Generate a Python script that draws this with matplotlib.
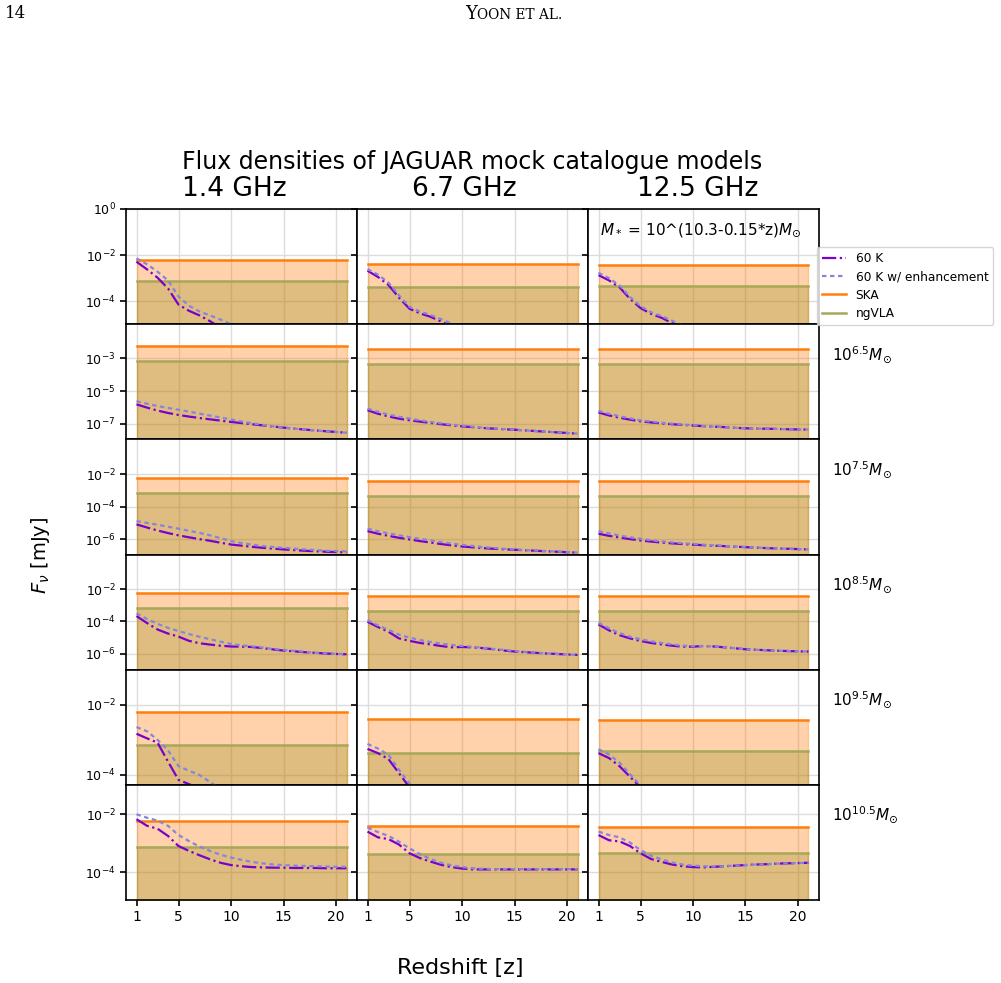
import numpy as np
import matplotlib
matplotlib.use("Agg")
import matplotlib.pyplot as plt
from matplotlib.lines import Line2D
from matplotlib.ticker import FixedLocator, NullLocator, LogFormatterSciNotation

# ---------------- data ----------------
redshift = list(range(1, 22))
freqs = ["1.4 GHz", "6.7 GHz", "12.5 GHz"]
row_labels = [r"$M_*$ = 10^(10.3-0.15*z)$M_{\odot}$", r"$10^{6.5}M_{\odot}$",
              r"$10^{7.5}M_{\odot}$", r"$10^{8.5}M_{\odot}$",
              r"$10^{9.5}M_{\odot}$", r"$10^{10.5}M_{\odot}$"]

# sensitivity limits (mJy) per frequency
ska_limit = [6.0e-3, 3.9e-3, 3.6e-3]
ngvla_limit = [7.2e-4, 4.3e-4, 4.7e-4]

# log10 flux density [mJy], one list per frequency, one variable per mass model
k60_evolving = [
    [-2.29, -2.62, -2.98, -3.45, -4.15, -4.42, -4.62, -4.87, -5.15, -5.4, -5.65, -5.9, -6.15, -6.4, -6.65, -6.9, -7.15, -7.4, -7.65, -7.9, -8.15],
    [-2.68, -2.95, -3.3, -3.85, -4.33, -4.53, -4.68, -4.88, -5.1, -5.35, -5.6, -5.85, -6.1, -6.35, -6.6, -6.85, -7.1, -7.35, -7.6, -7.85, -8.1],
    [-2.87, -3.1, -3.4, -3.9, -4.3, -4.55, -4.72, -4.95, -5.2, -5.45, -5.7, -5.95, -6.2, -6.45, -6.7, -6.95, -7.2, -7.45, -7.7, -7.95, -8.2],
]
enh_evolving = [
    [-2.14, -2.4, -2.72, -3.1, -3.8, -4.2, -4.45, -4.62, -4.8, -5.0, -5.2, -5.4, -5.6, -5.8, -6.0, -6.2, -6.4, -6.6, -6.8, -7.0, -7.2],
    [-2.61, -2.85, -3.2, -3.75, -4.25, -4.45, -4.6, -4.78, -4.98, -5.2, -5.4, -5.6, -5.8, -6.0, -6.2, -6.4, -6.6, -6.8, -7.0, -7.2, -7.4],
    [-2.77, -3.0, -3.32, -3.82, -4.22, -4.48, -4.65, -4.85, -5.05, -5.3, -5.5, -5.7, -5.9, -6.1, -6.3, -6.5, -6.7, -6.9, -7.1, -7.3, -7.5],
]
k60_m65 = [
    [-5.82, -6.02, -6.2, -6.35, -6.47, -6.57, -6.66, -6.74, -6.82, -6.9, -6.97, -7.04, -7.11, -7.18, -7.25, -7.31, -7.37, -7.42, -7.47, -7.52, -7.56],
    [-6.18, -6.4, -6.56, -6.7, -6.8, -6.88, -6.96, -7.04, -7.11, -7.17, -7.22, -7.27, -7.31, -7.35, -7.38, -7.42, -7.46, -7.5, -7.54, -7.58, -7.62],
    [-6.32, -6.5, -6.64, -6.76, -6.86, -6.93, -6.99, -7.04, -7.08, -7.12, -7.16, -7.19, -7.22, -7.26, -7.29, -7.31, -7.32, -7.33, -7.35, -7.36, -7.37],
]
enh_m65 = [
    [-5.63, -5.78, -5.92, -6.04, -6.15, -6.27, -6.39, -6.51, -6.63, -6.75, -6.87, -6.98, -7.08, -7.17, -7.25, -7.31, -7.37, -7.42, -7.47, -7.52, -7.56],
    [-6.08, -6.28, -6.45, -6.58, -6.69, -6.8, -6.9, -6.99, -7.07, -7.13, -7.2, -7.25, -7.3, -7.34, -7.38, -7.42, -7.46, -7.5, -7.54, -7.58, -7.62],
    [-6.22, -6.4, -6.55, -6.68, -6.8, -6.88, -6.95, -7.01, -7.06, -7.1, -7.15, -7.19, -7.22, -7.26, -7.29, -7.31, -7.32, -7.33, -7.35, -7.36, -7.37],
]
k60_m75 = [
    [-5.08, -5.27, -5.45, -5.61, -5.75, -5.87, -5.98, -6.08, -6.2, -6.31, -6.38, -6.45, -6.51, -6.56, -6.61, -6.65, -6.69, -6.72, -6.75, -6.77, -6.79],
    [-5.49, -5.65, -5.78, -5.9, -6.0, -6.1, -6.19, -6.28, -6.36, -6.43, -6.48, -6.53, -6.57, -6.6, -6.63, -6.66, -6.69, -6.72, -6.75, -6.78, -6.81],
    [-5.65, -5.78, -5.88, -5.98, -6.06, -6.13, -6.19, -6.24, -6.28, -6.32, -6.35, -6.38, -6.41, -6.44, -6.47, -6.5, -6.53, -6.55, -6.57, -6.59, -6.61],
]
enh_m75 = [
    [-4.88, -4.99, -5.1, -5.22, -5.34, -5.47, -5.6, -5.75, -5.92, -6.1, -6.22, -6.32, -6.4, -6.46, -6.51, -6.56, -6.61, -6.65, -6.69, -6.71, -6.73],
    [-5.34, -5.5, -5.63, -5.75, -5.86, -5.96, -6.06, -6.16, -6.25, -6.33, -6.4, -6.47, -6.52, -6.57, -6.61, -6.65, -6.68, -6.71, -6.74, -6.77, -6.8],
    [-5.49, -5.63, -5.76, -5.87, -5.96, -6.05, -6.12, -6.18, -6.23, -6.28, -6.32, -6.36, -6.4, -6.43, -6.46, -6.49, -6.52, -6.55, -6.57, -6.59, -6.61],
]
k60_m85 = [
    [-3.67, -4.1, -4.5, -4.75, -4.94, -5.2, -5.35, -5.43, -5.5, -5.55, -5.56, -5.58, -5.65, -5.73, -5.8, -5.85, -5.9, -5.94, -5.98, -6.01, -6.03],
    [-4.02, -4.35, -4.64, -5.05, -5.2, -5.33, -5.42, -5.52, -5.6, -5.58, -5.6, -5.65, -5.72, -5.8, -5.86, -5.9, -5.94, -5.98, -6.01, -6.04, -6.07],
    [-4.19, -4.55, -4.85, -5.05, -5.21, -5.33, -5.42, -5.5, -5.56, -5.56, -5.52, -5.55, -5.6, -5.66, -5.72, -5.75, -5.78, -5.81, -5.83, -5.85, -5.86],
]
enh_m85 = [
    [-3.51, -3.85, -4.15, -4.4, -4.6, -4.78, -4.95, -5.1, -5.25, -5.39, -5.48, -5.54, -5.62, -5.7, -5.76, -5.82, -5.88, -5.93, -5.97, -6.0, -6.02],
    [-3.92, -4.25, -4.52, -4.82, -5.0, -5.15, -5.27, -5.37, -5.45, -5.52, -5.57, -5.63, -5.7, -5.77, -5.83, -5.88, -5.93, -5.97, -6.01, -6.04, -6.07],
    [-4.09, -4.43, -4.72, -4.95, -5.1, -5.23, -5.33, -5.42, -5.5, -5.53, -5.52, -5.55, -5.6, -5.66, -5.72, -5.75, -5.78, -5.81, -5.83, -5.85, -5.86],
]
k60_m95 = [
    [-2.83, -2.96, -3.08, -3.62, -4.14, -4.26, -4.38, -4.5, -4.62, -4.74, -4.86, -4.98, -5.1, -5.22, -5.34, -5.46, -5.58, -5.7, -5.82, -5.94, -6.06],
    [-3.26, -3.38, -3.55, -3.95, -4.35, -4.5, -4.62, -4.74, -4.86, -4.98, -5.1, -5.22, -5.34, -5.46, -5.58, -5.7, -5.82, -5.94, -6.06, -6.18, -6.3],
    [-3.38, -3.52, -3.75, -4.05, -4.35, -4.5, -4.62, -4.74, -4.86, -4.98, -5.1, -5.22, -5.34, -5.46, -5.58, -5.7, -5.82, -5.94, -6.06, -6.18, -6.3],
]
enh_m95 = [
    [-2.64, -2.76, -3.0, -3.3, -3.75, -3.88, -4.0, -4.2, -4.4, -4.55, -4.7, -4.85, -5.0, -5.15, -5.3, -5.45, -5.6, -5.75, -5.9, -6.05, -6.2],
    [-3.12, -3.25, -3.43, -3.85, -4.25, -4.42, -4.55, -4.68, -4.8, -4.92, -5.04, -5.16, -5.28, -5.4, -5.52, -5.64, -5.76, -5.88, -6.0, -6.12, -6.24],
    [-3.27, -3.42, -3.65, -3.98, -4.3, -4.45, -4.58, -4.7, -4.82, -4.94, -5.06, -5.18, -5.3, -5.42, -5.54, -5.66, -5.78, -5.9, -6.02, -6.14, -6.26],
]
k60_m105 = [
    [-2.17, -2.4, -2.5, -2.75, -3.1, -3.27, -3.42, -3.56, -3.68, -3.76, -3.8, -3.83, -3.84, -3.85, -3.85, -3.86, -3.86, -3.86, -3.87, -3.87, -3.87],
    [-2.6, -2.8, -2.86, -3.05, -3.35, -3.52, -3.64, -3.75, -3.83, -3.88, -3.91, -3.91, -3.91, -3.91, -3.91, -3.91, -3.91, -3.91, -3.91, -3.91, -3.91],
    [-2.72, -2.9, -2.94, -3.1, -3.35, -3.55, -3.65, -3.74, -3.8, -3.83, -3.84, -3.82, -3.8, -3.78, -3.76, -3.74, -3.73, -3.71, -3.7, -3.69, -3.68],
]
enh_m105 = [
    [-2.0, -2.12, -2.22, -2.4, -2.72, -2.93, -3.12, -3.27, -3.4, -3.5, -3.58, -3.65, -3.7, -3.74, -3.76, -3.78, -3.79, -3.8, -3.81, -3.82, -3.82],
    [-2.46, -2.62, -2.75, -2.95, -3.18, -3.38, -3.55, -3.68, -3.77, -3.83, -3.87, -3.89, -3.9, -3.9, -3.9, -3.9, -3.9, -3.9, -3.9, -3.9, -3.9],
    [-2.6, -2.72, -2.8, -2.98, -3.24, -3.44, -3.56, -3.67, -3.74, -3.78, -3.8, -3.81, -3.8, -3.78, -3.76, -3.74, -3.73, -3.71, -3.7, -3.69, -3.68],
]

k60_rows = [k60_evolving, k60_m65, k60_m75, k60_m85, k60_m95, k60_m105]
enh_rows = [enh_evolving, enh_m65, enh_m75, enh_m85, enh_m95, enh_m105]

# axis ranges (log10) and tick exponents per row
row_ylim = [(-5.0, 0.0), (-7.97, -0.89), (-6.92, 0.12), (-6.98, 0.13), (-4.28, -1.01), (-4.97, -0.98)]
row_ticks = [[0, -2, -4], [-3, -5, -7], [-2, -4, -6], [-2, -4, -6], [-2, -4], [-2, -4]]

# ---------------- style ----------------
c60 = "#7a00cc"
cenh = "#8585dd"
cska = "#ff7f0e"
cngvla = "#a8a85a"

W, H = 1001, 983
fig, axes = plt.subplots(6, 3, figsize=(W / 100, H / 100), dpi=100, sharex=True, sharey="row")
fig.subplots_adjust(left=126 / W, right=819 / W, top=1 - 209 / H, bottom=1 - 900 / H,
                    hspace=0, wspace=0)

z = np.array(redshift)
for r in range(6):
    for c in range(3):
        ax = axes[r, c]
        ax.set_yscale("log")
        ska = np.full(len(z), ska_limit[c])
        ngv = np.full(len(z), ngvla_limit[c])
        ax.fill_between(z, ska, 1e-12, color=cska, alpha=0.35, lw=1)
        ax.fill_between(z, ngv, 1e-12, color="olive", alpha=0.25, lw=1)
        ax.plot(z, 10 ** np.array(k60_rows[r][c]), color=c60, ls="-.", lw=1.6, zorder=3)
        ax.plot(z, 10 ** np.array(enh_rows[r][c]), color=cenh, ls=(0, (2, 1.6)), lw=1.6, zorder=3)
        ax.plot(z, ska, color=cska, lw=1.8, zorder=2)
        ax.plot(z, ngv, color=cngvla, lw=1.8, zorder=2)
        ax.grid(True, color="#dcdcdc", lw=1.0)
        ax.set_axisbelow(True)
        for s in ax.spines.values():
            s.set_linewidth(1.2)
        ax.tick_params(axis="both", which="major", length=4, width=1.2, labelsize=9)
        ax.yaxis.set_minor_locator(NullLocator())
        ax.set_xlim(0, 22)
    lo, hi = row_ylim[r]
    axes[r, 0].set_ylim(10 ** lo, 10 ** hi)
    axes[r, 0].yaxis.set_major_locator(FixedLocator([10.0 ** t for t in row_ticks[r]]))
    axes[r, 0].yaxis.set_major_formatter(LogFormatterSciNotation())
    axes[r, 0].yaxis.set_minor_locator(NullLocator())

axes[-1, 0].set_xticks([1, 5, 10, 15, 20])
for c in range(3):
    axes[-1, c].tick_params(axis="x", labelsize=10)

# texts
fig.text(5 / W, 1 - 14 / H, "14", fontsize=12, family="DejaVu Serif", va="center", ha="left")
fig.text(477 / W, 1 - 14 / H, "Y", fontsize=13, family="DejaVu Serif", va="center", ha="right")
fig.text(477 / W, 1 - 14.8 / H, "OON ET AL.", fontsize=9.8, family="DejaVu Serif", va="center", ha="left")

fig.text(472 / W, 1 - 162 / H, "Flux densities of JAGUAR mock catalogue models",
         fontsize=17, ha="center", va="center")
col_title_x = [234, 464, 698]
for c in range(3):
    fig.text(col_title_x[c] / W, 1 - 189 / H, freqs[c], fontsize=19, ha="center", va="center")

fig.text(40 / W, 1 - 555 / H, r"$F_\nu$ [mJy]", fontsize=14, rotation=90, ha="center", va="center")
fig.text(460 / W, 1 - 968 / H, "Redshift [z]", fontsize=16, ha="center", va="center")

axes[0, 2].text(0.05, 0.82, row_labels[0], transform=axes[0, 2].transAxes, fontsize=11,
                ha="left", va="center")
for r in range(1, 6):
    ytop = 209 + 115.2 * r
    fig.text(832 / W, 1 - (ytop + 30) / H, row_labels[r], fontsize=11, ha="left", va="center")

handles = [Line2D([], [], color=c60, ls="-.", lw=1.6),
           Line2D([], [], color=cenh, ls=(0, (2, 1.6)), lw=1.6),
           Line2D([], [], color=cska, lw=1.8),
           Line2D([], [], color=cngvla, lw=1.8)]
fig.legend(handles, ["60 K", "60 K w/ enhancement", "SKA", "ngVLA"], loc="upper left",
           bbox_to_anchor=(817 / W, 1 - 247 / H), fontsize=8.7, frameon=True,
           fancybox=True, borderaxespad=0, labelspacing=0.45)

fig.savefig("out.png", dpi=100)
